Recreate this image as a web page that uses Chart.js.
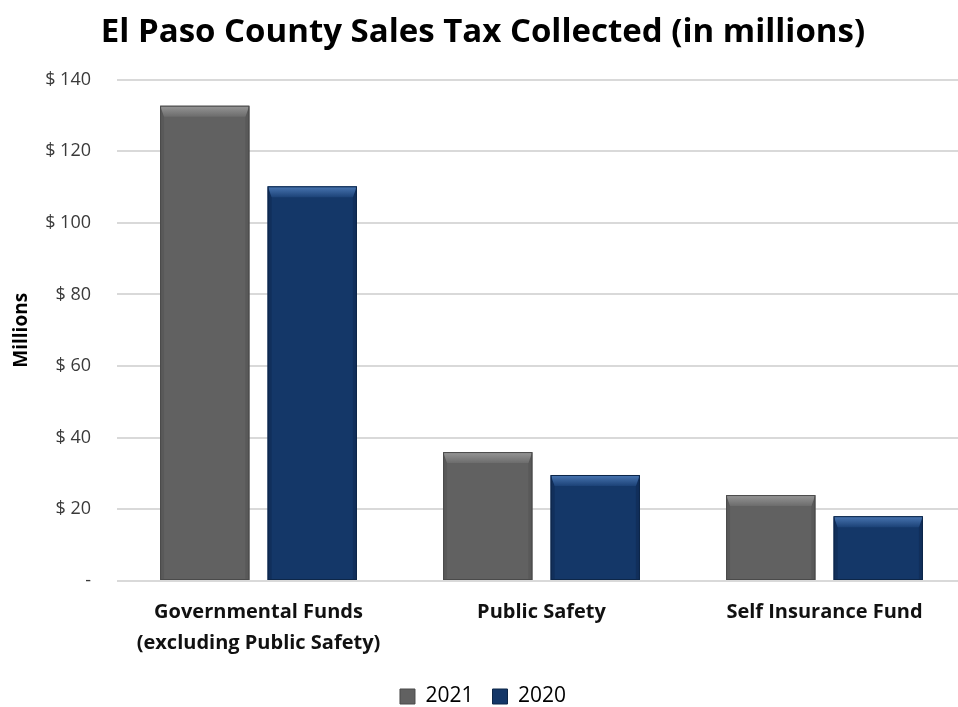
<!DOCTYPE html>
<html>
<head>
<meta charset="utf-8">
<script src="https://cdn.jsdelivr.net/npm/chart.js@4/dist/chart.umd.min.js"></script>
<style>
  html, body { margin: 0; padding: 0; background: #fff; overflow: hidden; }
  #wrap { width: 958px; height: 707px; overflow: hidden; }
  #box { width: 972px; height: 717px; }
</style>
</head>
<body>
<div id="wrap"><div id="box"><canvas id="salesChart"></canvas></div></div>
<script>
const categories = [
  ["Governmental Funds", "(excluding Public Safety)"],
  "Public Safety",
  "Self Insurance Fund"
];
const values2021 = [132.7, 36.0, 24.0];
const values2020 = [110.2, 29.6, 18.1];
const yTicks = [0, 20, 40, 60, 80, 100, 120, 140];

const FONT = "'Open Sans', 'DejaVu Sans', sans-serif";

// bevel look like the office chart
const bevelPlugin = {
  id: "bevel",
  afterDatasetsDraw(chart) {
    const ctx = chart.ctx;
    chart.data.datasets.forEach((ds, i) => {
      const meta = chart.getDatasetMeta(i);
      meta.data.forEach((bar) => {
        const p = bar.getProps(["x", "y", "base", "width"], true);
        const l = p.x - p.width / 2, r = p.x + p.width / 2;
        const t = p.y, b = p.base;
        const bv = 11, sv = 4;
        ctx.save();
        // sides
        ctx.fillStyle = ds.sideColor;
        ctx.beginPath();
        ctx.moveTo(l, t); ctx.lineTo(l + sv, t + bv); ctx.lineTo(l + sv, b); ctx.lineTo(l, b);
        ctx.closePath(); ctx.fill();
        ctx.beginPath();
        ctx.moveTo(r, t); ctx.lineTo(r - sv, t + bv); ctx.lineTo(r - sv, b); ctx.lineTo(r, b);
        ctx.closePath(); ctx.fill();
        // top
        const g = ctx.createLinearGradient(0, t, 0, t + bv);
        g.addColorStop(0, ds.topColors[0]);
        g.addColorStop(1, ds.topColors[1]);
        ctx.fillStyle = g;
        ctx.beginPath();
        ctx.moveTo(l, t); ctx.lineTo(r, t); ctx.lineTo(r - sv, t + bv); ctx.lineTo(l + sv, t + bv);
        ctx.closePath(); ctx.fill();
        // outline
        ctx.strokeStyle = ds.edgeColor;
        ctx.lineWidth = 1;
        ctx.strokeRect(l + 0.5, t + 0.5, p.width - 1, b - t - 1);
        ctx.restore();
      });
    });
  }
};

const ctx = document.getElementById("salesChart").getContext("2d");
const salesChart = new Chart(ctx, {
  type: "bar",
  data: {
    labels: categories,
    datasets: [
      {
        label: "2021",
        data: values2021,
        backgroundColor: "#616161",
        sideColor: "#595959",
        topColors: ["#979797", "#6c6c6c"],
        edgeColor: "#4a4a4a",
        borderWidth: 0,
        categoryPercentage: 0.76,
        barPercentage: 0.83
      },
      {
        label: "2020",
        data: values2020,
        backgroundColor: "#143768",
        sideColor: "#112f5b",
        topColors: ["#4a77b3", "#1c4277"],
        edgeColor: "#0d2648",
        borderWidth: 0,
        categoryPercentage: 0.76,
        barPercentage: 0.83
      }
    ]
  },
  options: {
    responsive: true,
    maintainAspectRatio: false,
    animation: false,
    layout: { padding: { left: 0, right: 6, top: 0, bottom: 0 } },
    plugins: {
      title: {
        display: true,
        text: "El Paso County Sales Tax Collected (in millions)",
        color: "#000",
        font: { family: FONT, size: 33, weight: "bold" },
        padding: { top: 13, bottom: 27 }
      },
      legend: {
        position: "bottom",
        labels: {
          color: "#222",
          boxWidth: 15,
          boxHeight: 15,
          padding: 19,
          font: { family: FONT, size: 21 },
          generateLabels(chart) {
            return chart.data.datasets.map((ds, i) => ({
              text: ds.label,
              fillStyle: ds.backgroundColor,
              strokeStyle: ds.edgeColor,
              lineWidth: 1,
              datasetIndex: i
            }));
          }
        }
      },
      tooltip: { enabled: false }
    },
    scales: {
      x: {
        grid: { display: false, drawTicks: false },
        border: { display: false },
        afterFit(scale) { scale.height = 86; },
        ticks: {
          color: "#111",
          padding: 16,
          maxRotation: 0,
          font: { family: FONT, size: 20, weight: "bold", lineHeight: 1.55 }
        }
      },
      y: {
        min: 0,
        max: 140,
        afterBuildTicks(scale) {
          scale.ticks = yTicks.map((v) => ({ value: v }));
        },
        afterFit(scale) { scale.width = 117; },
        grid: { color: "#d9d9d9", lineWidth: 2, drawTicks: false },
        border: { display: false },
        title: {
          display: true,
          text: "Millions",
          color: "#000",
          font: { family: FONT, size: 19, weight: "bold" },
          padding: 10
        },
        ticks: {
          color: "#3a3a3a",
          padding: 26,
          font: { family: FONT, size: 18 },
          callback: (v) => (v === 0 ? "-" : "$ " + v)
        }
      }
    }
  },
  plugins: [bevelPlugin]
});
</script>
</body>
</html>
